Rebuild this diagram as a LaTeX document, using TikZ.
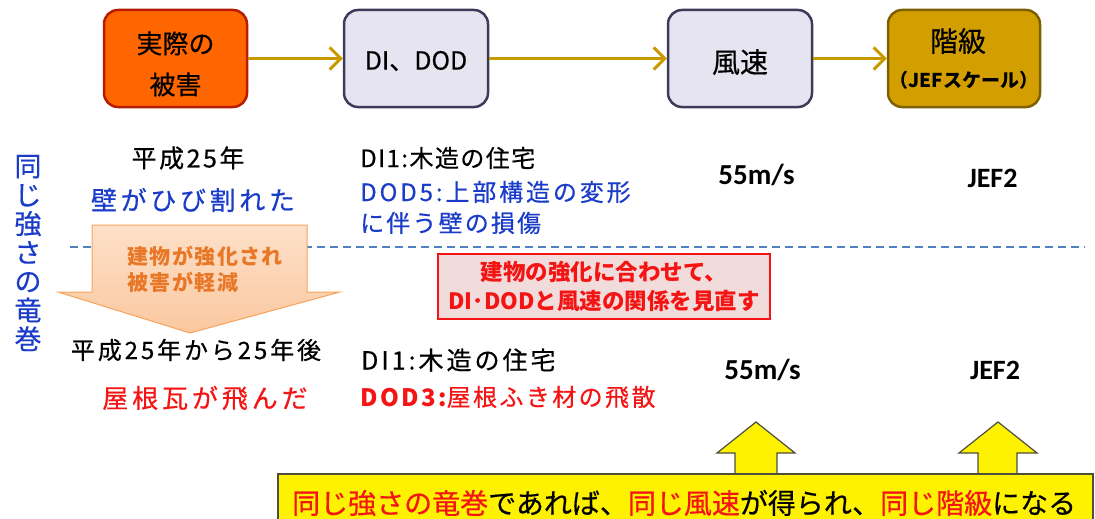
\documentclass[tikz,border=0pt]{standalone}
\usepackage{fontspec}
\setmainfont{Noto Sans CJK JP}[FakeBold=0.5, BoldFeatures={FakeBold=0}]
\newfontfamily\calfont{Carlito}
\usetikzlibrary{arrows.meta}
\definecolor{orangebox}{HTML}{FF6600}
\definecolor{orangeborder}{HTML}{B81C00}
\definecolor{lavfill}{HTML}{E6E4F0}
\definecolor{lavborder}{HTML}{3C3C5A}
\definecolor{goldfill}{HTML}{D29E00}
\definecolor{goldborder}{HTML}{7F6000}
\definecolor{arrowgold}{HTML}{C99A00}
\definecolor{jblue}{HTML}{1A3CC8}
\definecolor{jred}{HTML}{F51414}
\definecolor{dashblue}{HTML}{4F81BD}
\definecolor{peachtop}{HTML}{FDE0C8}
\definecolor{peachbot}{HTML}{FAC8A0}
\definecolor{peachborder}{HTML}{F7A35C}
\definecolor{peachtext}{HTML}{E87828}
\definecolor{pinkfill}{HTML}{F2DCDB}
\definecolor{yborder}{HTML}{4D4D40}
\newcommand{\fs}[2]{\fontsize{#1}{#2}\selectfont}
\newcommand{\lsp}[1]{\addfontfeature{LetterSpace=#1}}
\begin{document}
\begin{tikzpicture}[x=1pt,y=-1pt,
  flowbox/.style={rounded corners=14pt, line width=2.5pt, minimum height=97pt, inner sep=0pt},
  flow/.style={draw=arrowgold, line width=3pt, -{Straight Barb[length=11pt,width=22pt]}},
  yarrow/.style={fill=yellow, draw=yborder, line width=1.2pt, line join=miter},
  plain/.style={inner sep=0pt, anchor=center},
  fig/.style={plain, font=\calfont\bfseries\fs{29}{32}}
]
\useasboundingbox (0,0) rectangle (1095,519);

% top flow
\node[flowbox, minimum width=143pt, fill=orangebox, draw=orangeborder] (damage) at (175.5,58.5) {};
\node[flowbox, minimum width=144pt, fill=lavfill, draw=lavborder] (dod) at (416,58.5) {};
\node[flowbox, minimum width=144pt, fill=lavfill, draw=lavborder] (wind) at (740,58.5) {};
\node[flowbox, minimum width=152pt, fill=goldfill, draw=goldborder] (grade) at (964,58.5) {};
\node[plain, align=center, font=\fs{26}{41}] (damage-t) at (175.5,64) {実際の\\被害};
\node[plain, font=\fs{25}{30}] (dod-t) at (416,61) {DI、DOD};
\node[plain, font=\fs{28}{32}] (wind-t) at (740,62) {風速};
\node[plain, font=\fs{28}{32}] (grade-t) at (958,41) {階級};
\node[plain, font=\bfseries\fs{19}{22}] (grade-s) at (964,80) {（JEFスケール）};
\draw[flow] (damage) -- (dod);
\draw[flow] (dod) -- (wind);
\draw[flow] (wind) -- (grade);

% vertical title
\node[plain, text=jblue, align=center, font=\fs{27}{28.8}] (vtitle) at (28,253) {同\\じ\\強\\さ\\の\\竜\\巻};

% dashed separator
\coordinate (dl) at (70,247);
\coordinate (dr) at (1085,247);
\draw[dashblue, line width=2pt, dash pattern=on 8pt off 5pt] (dl) -- (dr);

% big down arrow
\shadedraw[top color=peachtop, bottom color=peachbot, draw=peachborder, line width=1pt]
  (92,225) -- (307,225) -- (307,292) -- (340,292) -- (190,333) -- (58,292) -- (92,292) -- cycle;
\node[plain, anchor=west, align=left, text=peachtext, font=\bfseries\fs{21}{25.5}\lsp{7}] (reinf) at (127,269.5) {建物が強化され\\被害が軽減};

% upper row
\node[plain, font=\fs{25}{28}\lsp{10}] (y1) at (188,158) {平成25年};
\node[plain, text=jblue, font=\fs{26}{28}\lsp{14}] (d1) at (193,200) {壁がひび割れた};
\node[plain, anchor=west, font=\fs{24}{28}\lsp{6}] (di1) at (360,158) {DI1:木造の住宅};
\node[plain, anchor=west, text=jblue, font=\fs{24}{28}\lsp{12}] (dod5) at (360,192) {DOD5:上部構造の変形};
\node[plain, anchor=west, text=jblue, font=\fs{24}{28}\lsp{9}] (dod5b) at (360,223) {に伴う壁の損傷};
\node[fig] (v1) at (756.5,175) {55m/s};
\node[fig, font=\calfont\bfseries\fs{28}{32}] (j1) at (992.5,178) {JEF2};

% review box
\node[plain, minimum width=332pt, minimum height=65pt, fill=pinkfill, draw=jred, line width=1.5pt, text=jred, align=center, font=\bfseries\fs{22.5}{29}] (review) at (604,286.5) {建物の強化に合わせて、\\DI･DODと風速の関係を見直す};

% lower row
\node[plain, font=\fs{24}{28}\lsp{12}] (y2) at (196,350) {平成25年から25年後};
\node[plain, text=jred, font=\fs{26}{28}\lsp{15}] (d2) at (205,398) {屋根瓦が飛んだ};
\node[plain, anchor=west, font=\fs{25}{28}\lsp{12}] (di1b) at (361,360) {DI1:木造の住宅};
\node[plain, anchor=west, text=jred, font=\fs{24}{28}\lsp{10}] (dod3) at (360,397) {{\bfseries DOD3:}屋根ふき材の飛散};
\node[fig] (v2) at (762.5,370) {55m/s};
\node[fig, font=\calfont\bfseries\fs{28}{32}] (j2) at (995,370) {JEF2};

% yellow up arrows
\draw[yarrow] (735,476) -- (735,453) -- (717,453) -- (756,422) -- (795,453) -- (777,453) -- (777,476);
\draw[yarrow] (978,476) -- (978,453) -- (959,453) -- (998,422) -- (1037,453) -- (1017,453) -- (1017,476);

% summary box
\filldraw[fill=yellow, draw=yborder, line width=1.2pt] (278,474) rectangle (1093,540);
\node[plain, anchor=west, font=\fs{28}{32}] (summary) at (292,503) {\textcolor{jred}{同じ強さの竜巻}であれば、\textcolor{jred}{同じ風速}が得られ、\textcolor{jred}{同じ階級}になる};
\end{tikzpicture}
\end{document}
